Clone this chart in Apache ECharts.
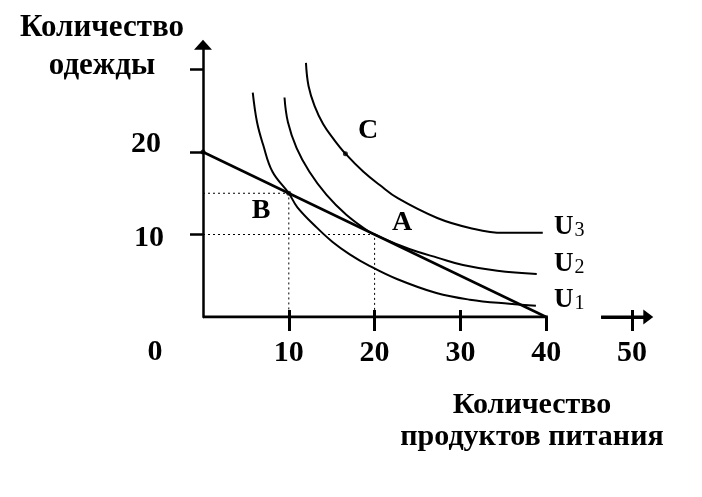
<!DOCTYPE html>
<html><head><meta charset="utf-8">
<script src="https://cdn.jsdelivr.net/npm/echarts@6/dist/echarts.min.js"></script>
<style>html,body{margin:0;padding:0;background:#fff}#c{width:702px;height:497px}</style>
</head><body><div id="c"></div>
<script>
const foodTicks = [10, 20, 30, 40, 50];
const foodLabels = [10, 20, 30, 40, 50];
const clothTicks = [10, 20, 30];
const clothLabels = [10, 20];
const budgetLine = [[0, 20], [40, 0]];
const pointA = [20, 10];
const pointB = [10, 15];
const pointC = [16.6, 19.8];
const u1 = [[5.8,27.2],[6.3,23.6],[7.0,20.9],[8.1,17.6],[10,15],[11.0,13.3],[13.3,10.8],[15.1,9.1],[17.1,7.6],[19.4,6.2],[22.6,4.6],[27.2,2.9],[31.1,2.1],[35.7,1.6],[38.8,1.35]];
const u2 = [[9.5,26.6],[9.9,23.6],[10.9,20.5],[12.4,17.6],[14.4,14.8],[16.7,12.4],[19.4,10.3],[20,10],[22.9,8.7],[25,7.9],[27.3,7.2],[30.3,6.3],[34.3,5.6],[38.9,5.2]];
const u3 = [[12.0,30.8],[12.3,28.0],[13.0,25.6],[14.0,23.4],[15.2,21.6],[16.6,19.8],[18.7,17.6],[20.6,16.0],[22.7,14.4],[27.3,12.0],[31.1,10.8],[35.0,10.2],[39.6,10.2]];
const xAxisMain = [[0, 0], [40.2, 0]];
const xAxisTail = [[46.4, 0], [51.9, 0]];

const F = 'Liberation Serif';
const chart = echarts.init(document.getElementById('c'));
const curve = (d) => ({type:'line', data:d, smooth:0.4, symbol:'none', lineStyle:{color:'#000', width:2}, z:3});
const dotted = (p) => ({type:'line', data:[[0,p[1]], p, [p[0],0]], symbol:'none', lineStyle:{color:'#000', width:1, type:[2,3]}, z:2});
const txt = (x, y, t, size) => ({type:'text', style:{x:x, y:y, text:t, align:'center', verticalAlign:'middle', font:'bold ' + size + 'px "Liberation Serif"', fill:'#000'}});
const uLab = (y, n) => ({type:'text', style:{x:554, y:y, text:'{u|U}{s|' + n + '}', align:'left', verticalAlign:'middle',
  rich:{u:{fontFamily:F, fontWeight:'bold', fontSize:27, fill:'#000'}, s:{fontFamily:F, fontSize:20, fill:'#000', padding:[7,0,0,1]}}}});

chart.setOption({
  backgroundColor:'#fff',
  animation:false,
  grid:{left:203, top:44.75, width:446.16, height:272.25, containLabel:false},
  xAxis:[{
    type:'value', min:0, max:52, interval:10,
    axisLine:{show:false}, splitLine:{show:false},
    axisTick:{show:true, length:14, customValues:foodTicks, lineStyle:{color:'#000', width:3}},
    axisLabel:{show:true, customValues:foodLabels, margin:21, color:'#000', fontFamily:F, fontWeight:'bold', fontSize:30}
  },{
    type:'value', min:0, max:52, interval:10, position:'bottom',
    axisLine:{show:false}, splitLine:{show:false},
    axisTick:{show:true, inside:true, length:7, customValues:[10,20,30,50], lineStyle:{color:'#000', width:3}},
    axisLabel:{show:false}
  }],
  yAxis:{
    type:'value', min:0, max:33, interval:10,
    axisLine:{show:true, symbol:['none','triangle'], symbolSize:[18,10], lineStyle:{color:'#000', width:2.5}},
    splitLine:{show:false},
    axisTick:{show:true, length:13, customValues:clothTicks, lineStyle:{color:'#000', width:2.5}},
    axisLabel:{show:true, customValues:clothLabels, margin:39, color:'#000', fontFamily:F, fontWeight:'bold', fontSize:30,
      formatter:(v) => v === 20 ? '{hi|' + v + '}' : '{lo|' + v + '}',
      rich:{hi:{fontFamily:F, fontWeight:'bold', fontSize:30, color:'#000', padding:[0,3,16,0]},
            lo:{fontFamily:F, fontWeight:'bold', fontSize:30, color:'#000', padding:[7,0,0,0]}}}
  },
  series:[
    {type:'line', data:xAxisMain, symbol:'none', lineStyle:{color:'#000', width:3}, z:4},
    {type:'line', data:xAxisTail, symbol:'none', lineStyle:{color:'#000', width:3}, z:4,
      markLine:{silent:true, symbol:['none','triangle'], symbolSize:[15,10], label:{show:false},
        lineStyle:{color:'#000', width:3, type:'solid'}, data:[[{coord:xAxisTail[0]},{coord:xAxisTail[1]}]]}},
    dotted(pointB), dotted(pointA),
    {type:'line', data:budgetLine, symbol:'none', lineStyle:{color:'#000', width:2.5}, z:3},
    curve(u1), curve(u2), curve(u3),
    {type:'scatter', data:[budgetLine[0], pointB, pointC], symbol:'circle', symbolSize:5, itemStyle:{color:'#000'}, z:5}
  ],
  graphic:[
    txt(102, 28, 'Количество', 31),
    txt(102, 66, 'одежды', 31),
    txt(532, 405, 'Количество', 30),
    txt(532, 437, 'продуктов питания', 30),
    txt(155, 352, '0', 30),
    txt(368, 131, 'C', 28),
    txt(261, 211, 'B', 28),
    txt(402, 223, 'A', 28),
    uLab(227, 3), uLab(264, 2), uLab(300, 1)
  ]
});
</script></body></html>
